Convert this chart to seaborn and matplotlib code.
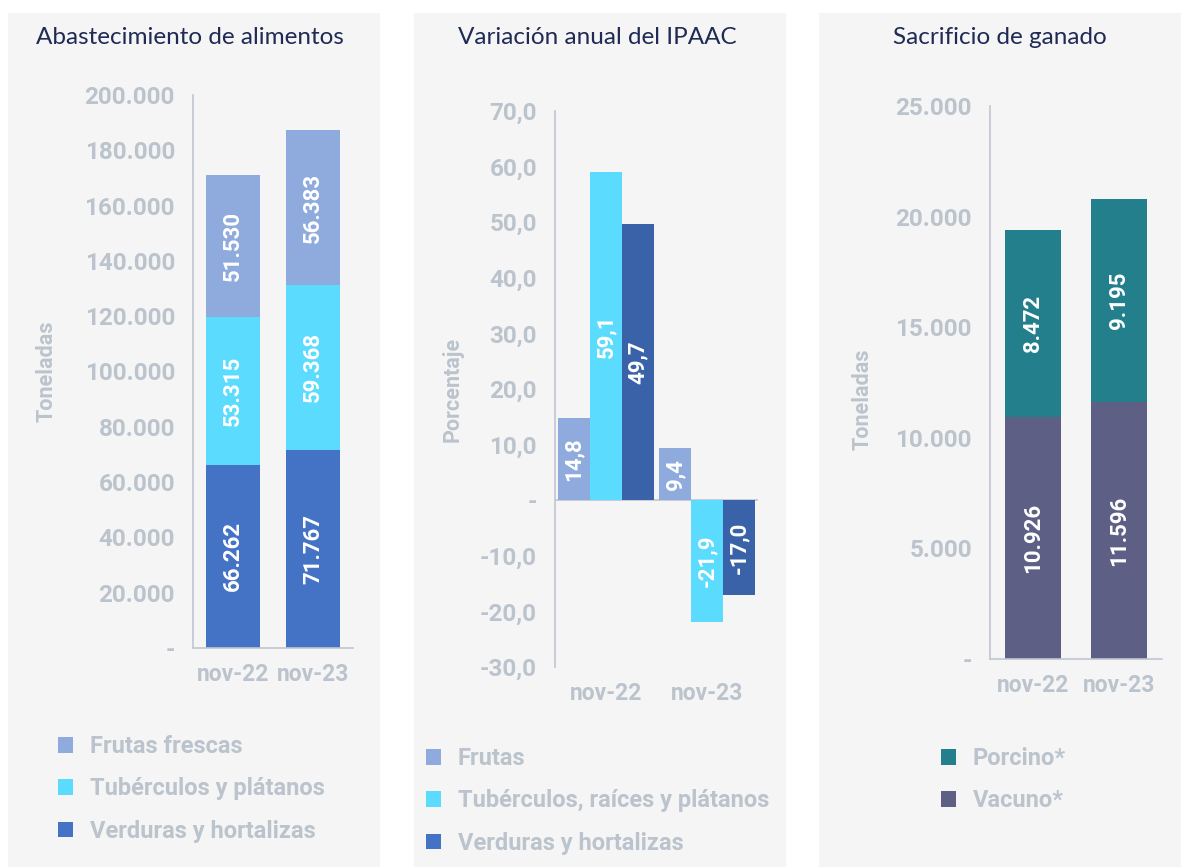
import numpy as np
import pandas as pd
import matplotlib
matplotlib.use("Agg")
import matplotlib.pyplot as plt
import seaborn as sns
from matplotlib.patches import Rectangle, Patch
from matplotlib.ticker import FuncFormatter, FixedLocator

# ---- data ----
periods = ["nov-22", "nov-23"]

# Abastecimiento de alimentos (toneladas)
abast_labels = ["Frutas frescas", "Tubérculos y plátanos", "Verduras y hortalizas"]
abast_frutas = [51530, 56383]
abast_tuberculos = [53315, 59368]
abast_verduras = [66262, 71767]

# Variación anual del IPAAC (%)
ipaac_labels = ["Frutas", "Tubérculos, raíces y plátanos", "Verduras y hortalizas"]
ipaac_frutas = [14.8, 9.4]
ipaac_tuberculos = [59.1, -21.9]
ipaac_verduras = [49.7, -17.0]

# Sacrificio de ganado (toneladas)
sacr_labels = ["Porcino*", "Vacuno*"]
sacr_porcino = [8472, 9195]
sacr_vacuno = [10926, 11596]

# ---- style ----
sns.set_style("white")
plt.rcParams["font.family"] = ["Roboto", "DejaVu Sans"]
BOLD = dict(family=["Roboto", "DejaVu Sans"], weight="bold")

W, H = 1181, 867
PANEL_BG = "#F5F5F5"
TICK_C = "#BBC3CD"
SPINE_C = "#BFC6D1"
TITLE_C = "#1F2A55"
C_FRUTA = "#8FAADC"
C_TUB = "#5BDBFD"
C_VERD = "#4472C4"
C_VERD2 = "#3A62A8"
C_PORC = "#237F8C"
C_VAC = "#5D5F85"

fig = plt.figure(figsize=(W / 100, H / 100), dpi=100)
fig.patch.set_facecolor("white")


def px_axes(left, top, right, bottom):
    return fig.add_axes([left / W, 1 - bottom / H, (right - left) / W, (bottom - top) / H])


# panel backgrounds
for x0, x1 in [(8, 380), (414, 786), (819, 1181)]:
    fig.patches.append(Rectangle((x0 / W, 0), (x1 - x0) / W, 1 - 13 / H,
                                 transform=fig.transFigure, facecolor=PANEL_BG,
                                 edgecolor="none", zorder=-10))

# titles
for xc, t in [(190, "Abastecimiento de alimentos"), (597, "Variación anual del IPAAC"),
              (1000, "Sacrificio de ganado")]:
    fig.text(xc / W, 1 - 38 / H, t, ha="center", va="center", fontsize=17.5,
             color=TITLE_C, family=["Lato", "DejaVu Sans"])


def thousands(v, pos=None):
    if abs(v) < 1e-9:
        return "-"
    return f"{v:,.0f}".replace(",", ".")


def pct(v, pos=None):
    if abs(v) < 1e-9:
        return "-"
    return f"{v:.1f}".replace(".", ",")


def style_axis(ax):
    ax.set_facecolor("none")
    for s in ["top", "right"]:
        ax.spines[s].set_visible(False)
    for s in ["left", "bottom"]:
        ax.spines[s].set_color(SPINE_C)
        ax.spines[s].set_linewidth(1.2)
    ax.tick_params(axis="y", length=0, pad=13, labelcolor=TICK_C)
    ax.tick_params(axis="x", which="major", length=0, pad=11, labelcolor=TICK_C)
    for lab in ax.get_yticklabels():
        lab.set_fontproperties(dict(BOLD, size=17.5))
    for lab in ax.get_xticklabels():
        lab.set_fontproperties(dict(BOLD, size=16.5))


def stacked(ax, layers, colors, width):
    # layers bottom -> top; draw cumulative totals from the top down
    cum = np.cumsum(np.array(layers, dtype=float), axis=0)
    for i in range(len(layers) - 1, -1, -1):
        df = pd.DataFrame({"periodo": periods, "valor": cum[i]})
        sns.barplot(data=df, x="periodo", y="valor", color=colors[i], width=width,
                    saturation=1, ax=ax, linewidth=0)
    for i, vals in enumerate(layers):
        base = cum[i] - np.array(vals)
        for j, v in enumerate(vals):
            ax.text(j, base[j] + v / 2, thousands(v), rotation=90, ha="center",
                    va="center", color="white", fontsize=16, **BOLD)
    ax.set_xlim(-0.5, 1.5)
    ax.xaxis.set_minor_locator(FixedLocator([-0.5, 0.5, 1.5]))
    ax.tick_params(axis="x", which="minor", length=5, width=1.2, color=SPINE_C)


# ---- panel 1 ----
ax1 = px_axes(193, 95, 353, 648)
stacked(ax1, [abast_verduras, abast_tuberculos, abast_frutas],
        [C_VERD, C_TUB, C_FRUTA], 0.67)
ax1.set_ylim(0, 200000)
ax1.set_yticks(np.arange(0, 200001, 20000))
ax1.yaxis.set_major_formatter(FuncFormatter(thousands))
ax1.set_xlabel("")
ax1.set_ylabel("Toneladas", fontsize=15.5, color=TICK_C, **BOLD)
ax1.yaxis.set_label_coords(-0.845, 0.5)
style_axis(ax1)

# ---- panel 2 ----
ax2 = px_axes(555, 111, 758, 667)
df2 = pd.DataFrame({
    "periodo": periods * 3,
    "serie": [ipaac_labels[0]] * 2 + [ipaac_labels[1]] * 2 + [ipaac_labels[2]] * 2,
    "valor": ipaac_frutas + ipaac_tuberculos + ipaac_verduras,
})
sns.barplot(data=df2, x="periodo", y="valor", hue="serie", hue_order=ipaac_labels,
            palette=[C_FRUTA, C_TUB, C_VERD2], width=0.95, saturation=1,
            linewidth=0, ax=ax2, legend=False)
for cont in ax2.containers:
    vals = [b.get_height() for b in cont]
    ax2.bar_label(cont, labels=[pct(v) for v in vals], label_type="center",
                  rotation=90, color="white", fontsize=16, **BOLD)
ax2.set_xlim(-0.5, 1.5)
ax2.set_ylim(-30, 70)
ax2.set_yticks(np.arange(-30, 71, 10))
ax2.yaxis.set_major_formatter(FuncFormatter(pct))
ax2.axhline(0, color=SPINE_C, lw=1.2, zorder=0)
ax2.set_xlabel("")
ax2.set_ylabel("Porcentaje", fontsize=15.5, color=TICK_C, **BOLD)
ax2.yaxis.set_label_coords(-0.45, 0.5)
style_axis(ax2)
ax2.spines["bottom"].set_visible(False)

# ---- panel 3 ----
ax3 = px_axes(990, 106, 1162, 659)
stacked(ax3, [sacr_vacuno, sacr_porcino], [C_VAC, C_PORC], 0.66)
ax3.set_ylim(0, 25000)
ax3.set_yticks(np.arange(0, 25001, 5000))
ax3.yaxis.set_major_formatter(FuncFormatter(thousands))
ax3.set_xlabel("")
ax3.set_ylabel("Toneladas", fontsize=15.5, color=TICK_C, **BOLD)
ax3.yaxis.set_label_coords(-0.675, 0.47)
style_axis(ax3)


# ---- legends ----
def panel_legend(labels, colors, x, y_top):
    handles = [Patch(facecolor=c, edgecolor="none") for c in colors]
    leg = fig.legend(handles, labels, loc="upper left",
                     bbox_to_anchor=(x / W, 1 - y_top / H), frameon=False,
                     prop=dict(BOLD, size=17), handlelength=0.65, handleheight=0.65,
                     handletextpad=0.7, labelspacing=0.82, borderpad=0,
                     borderaxespad=0)
    for t in leg.get_texts():
        t.set_color(TICK_C)
    return leg


panel_legend(abast_labels, [C_FRUTA, C_TUB, C_VERD], 58, 735)
panel_legend(ipaac_labels, [C_FRUTA, C_TUB, C_VERD], 426, 747)
panel_legend(sacr_labels, [C_PORC, C_VAC], 941, 747)

fig.savefig("out.png", dpi=100, facecolor="white")
